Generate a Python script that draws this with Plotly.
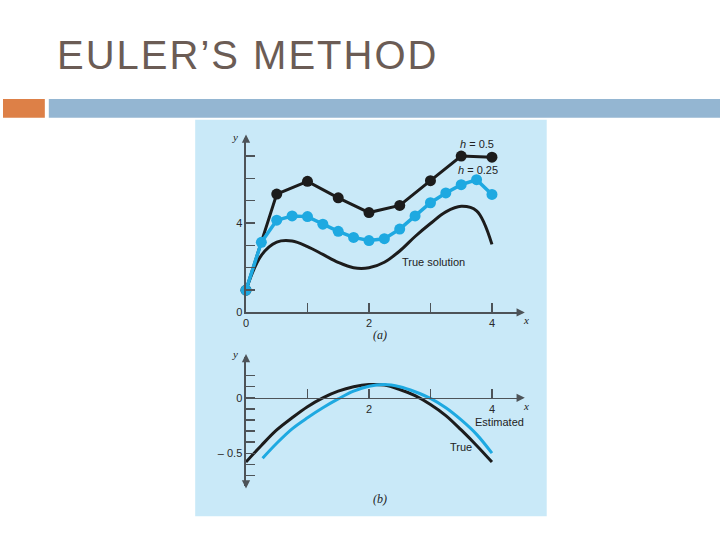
import plotly.graph_objects as go

W, H = 720, 540

# ---------------- data ----------------
# Panel (a)
x_h05 = [0, 0.5, 1.0, 1.5, 2.0, 2.5, 3.0, 3.5, 4.0]
y_h05 = [1.0, 5.3, 5.87, 5.13, 4.47, 4.79, 5.9, 7.0, 6.95]

x_h025 = [0, 0.25, 0.5, 0.75, 1.0, 1.25, 1.5, 1.75, 2.0, 2.25, 2.5, 2.75, 3.0, 3.25, 3.5, 3.75, 4.0]
y_h025 = [1.0, 3.14, 4.13, 4.32, 4.29, 3.95, 3.63, 3.36, 3.22, 3.3, 3.73, 4.32, 4.91, 5.35, 5.72, 5.94, 5.28]

x_true = [0, 0.25, 0.5, 0.75, 1.0, 1.25, 1.5, 1.75, 2.0, 2.25, 2.5, 2.75, 3.0, 3.25, 3.5, 3.75, 4.0]
y_true = [1.0, 2.56, 3.15, 3.2, 2.95, 2.6, 2.24, 2.0, 2.0, 2.25, 2.75, 3.4, 3.98, 4.5, 4.75, 4.55, 3.05]

# Panel (b)
x_err_true = [0, 0.25, 0.5, 0.75, 1.0, 1.25, 1.5, 1.75, 2.0, 2.25, 2.5, 2.75, 3.0, 3.25, 3.5, 3.75, 4.0]
y_err_true = [-0.58, -0.43, -0.29, -0.18, -0.08, 0.0, 0.06, 0.10, 0.12, 0.115, 0.075, 0.02, -0.06, -0.16, -0.29, -0.43, -0.58]

x_err_est = [0.27, 0.5, 0.75, 1.0, 1.25, 1.5, 1.75, 2.0, 2.25, 2.5, 2.75, 3.0, 3.25, 3.5, 3.75, 4.0]
y_err_est = [-0.545, -0.41, -0.28, -0.18, -0.09, -0.01, 0.06, 0.105, 0.12, 0.10, 0.055, -0.005, -0.09, -0.2, -0.33, -0.5]

# ticks
xa_tickvals = [0, 1, 2, 3, 4]
xa_ticktext = ["0", "", "2", "", "4"]
ya_tickvals = [0, 1, 2, 3, 4, 5, 6, 7]
ya_ticktext = ["0", "", "", "", "4", "", "", ""]
xb_tickvals = [1, 2, 3, 4]
xb_ticktext = ["", "2", "", "4"]
yb_tickvals = [0.2, 0.1, 0, -0.1, -0.2, -0.3, -0.4, -0.5, -0.6, -0.7]
yb_ticktext = ["", "", "0", "", "", "", "", "\u2013 0.5", "", ""]

TITLE = "EULER\u2019S METHOD"

# ---------------- styling ----------------
BLACK = "#1c1c1c"
BLUE = "#1ea9e1"
AXIS = "#4d5358"
PANEL_BG = "#c9e9f8"
FONT = "Liberation Sans"


def px(xp):
    return xp / W


def py(yp):
    return 1 - yp / H


fig = go.Figure()

# panel (a)
fig.add_trace(go.Scatter(x=x_true, y=y_true, mode="lines", line=dict(color=BLACK, width=3, shape="spline", smoothing=1.0),
                         xaxis="x", yaxis="y", hoverinfo="skip"))
fig.add_trace(go.Scatter(x=x_h05, y=y_h05, mode="lines+markers", line=dict(color=BLACK, width=3),
                         marker=dict(color=BLACK, size=11), cliponaxis=False, xaxis="x", yaxis="y"))
fig.add_trace(go.Scatter(x=x_h025, y=y_h025, mode="lines+markers", line=dict(color=BLUE, width=3.5),
                         marker=dict(color=BLUE, size=11), cliponaxis=False, xaxis="x", yaxis="y"))

# panel (b)
fig.add_trace(go.Scatter(x=x_err_true, y=y_err_true, mode="lines", line=dict(color=BLACK, width=3, shape="spline", smoothing=1.0),
                         xaxis="x2", yaxis="y2"))
fig.add_trace(go.Scatter(x=x_err_est, y=y_err_est, mode="lines", line=dict(color=BLUE, width=3, shape="spline", smoothing=1.0),
                         xaxis="x2", yaxis="y2"))

x_unit = 61.75
x_left_px, x_right_px = 244, 520
xrange_max = (x_right_px - x_left_px) / x_unit

ya_unit = 22.6
ya_zero_px, ya_top_px = 316, 140
yb_unit = 112.0
yb_zero_px, yb_top_px, yb_bot_px = 402.3, 361, 491

axis_common = dict(showgrid=False, zeroline=False, showline=True, linecolor=AXIS, linewidth=1.5,
                   ticks="inside", ticklen=9, tickwidth=1.4, tickcolor=AXIS,
                   tickfont=dict(family=FONT, size=11, color="#2a2a2a"), fixedrange=True)

fig.update_layout(
    width=W, height=H,
    margin=dict(l=0, r=0, t=0, b=0),
    paper_bgcolor="white", plot_bgcolor="rgba(0,0,0,0)",
    showlegend=False,
    xaxis=dict(domain=[px(x_left_px), px(x_right_px)], range=[0, xrange_max], anchor="y",
               tickmode="array", tickvals=xa_tickvals, ticktext=xa_ticktext, **axis_common),
    yaxis=dict(domain=[py(ya_zero_px), py(ya_top_px)], range=[0, (ya_zero_px - ya_top_px) / ya_unit], anchor="x",
               tickmode="array", tickvals=ya_tickvals, ticktext=ya_ticktext, **axis_common),
    xaxis2=dict(domain=[px(x_left_px), px(x_right_px)], range=[0, xrange_max], anchor="free", position=py(yb_zero_px),
                tickmode="array", tickvals=xb_tickvals, ticktext=xb_ticktext, **axis_common),
    yaxis2=dict(domain=[py(yb_bot_px), py(yb_top_px)],
                range=[(yb_zero_px - yb_bot_px) / yb_unit, (yb_zero_px - yb_top_px) / yb_unit], anchor="x2",
                tickmode="array", tickvals=yb_tickvals, ticktext=yb_ticktext, **axis_common),
)

shapes = [
    dict(type="rect", xref="paper", yref="paper", x0=px(0), x1=px(42), y0=py(119), y1=py(100),
         fillcolor="#dd8047", line=dict(width=0), layer="below"),
    dict(type="rect", xref="paper", yref="paper", x0=px(46), x1=px(720), y0=py(119), y1=py(100),
         fillcolor="#94b6d2", line=dict(width=0), layer="below"),
    dict(type="rect", xref="paper", yref="paper", x0=px(193), x1=px(546), y0=py(522), y1=py(121),
         fillcolor=PANEL_BG, line=dict(width=0), layer="below"),
]
fig.update_layout(shapes=shapes)

ann = []
# title
ann.append(dict(text=TITLE, x=px(52), y=py(56), xref="paper", yref="paper", xanchor="left", yanchor="middle",
                align="left", showarrow=False, font=dict(family=FONT, size=40, color="#6b5c55")))

# axis arrowheads
def arrow(tip_x, tip_y, dx, dy):
    return dict(x=px(tip_x), y=py(tip_y), xref="paper", yref="paper", ax=dx, ay=dy, axref="pixel", ayref="pixel",
                text="", showarrow=True, arrowhead=2, arrowsize=1.1, arrowwidth=1.5, arrowcolor=AXIS)

ann.append(arrow(244, 136, 0, 8))
ann.append(arrow(524, ya_zero_px, -8, 0))
ann.append(arrow(244, yb_top_px - 3, 0, 8))
ann.append(arrow(244, yb_bot_px + 3, 0, -8))
ann.append(arrow(524, yb_zero_px, -8, 0))

serif = "Liberation Serif"
def label(text, xp, yp, size=11, family=FONT, anchor="center", color="#222222"):
    return dict(text=text, x=px(xp), y=py(yp), xref="paper", yref="paper", xanchor=anchor, yanchor="middle",
                showarrow=False, font=dict(family=family, size=size, color=color))

ann.append(label("<i>y</i>", 233, 139, size=11, family=serif))
ann.append(label("<i>x</i>", 525, 324, size=11, family=serif))
ann.append(label("<i>y</i>", 233, 358, size=11, family=serif))
ann.append(label("<i>x</i>", 525, 411, size=11, family=serif))
ann.append(label("<i>(a)</i>", 379, 339, size=12, family=serif))
ann.append(label("<i>(b)</i>", 379, 505, size=12, family=serif))
ann.append(label("<i>h</i> = 0.5", 476, 146, size=11))
ann.append(label("<i>h</i> = 0.25", 477, 172, size=11))
ann.append(label("True solution", 432, 265, size=11))
ann.append(label("Estimated", 499, 427, size=11))
ann.append(label("True", 460, 452, size=11))

fig.update_layout(annotations=ann)

post = (
    "document.documentElement.style.margin='0';"
    "document.body.style.margin='0';"
    "document.body.style.overflow='hidden';"
    "var t=document.querySelector('.annotation[data-index=\"0\"] text');"
    "if(t){t.style.letterSpacing='2.0px';}"
)
fig.write_html("out.html", post_script=post, config={"displayModeBar": False, "staticPlot": True})
